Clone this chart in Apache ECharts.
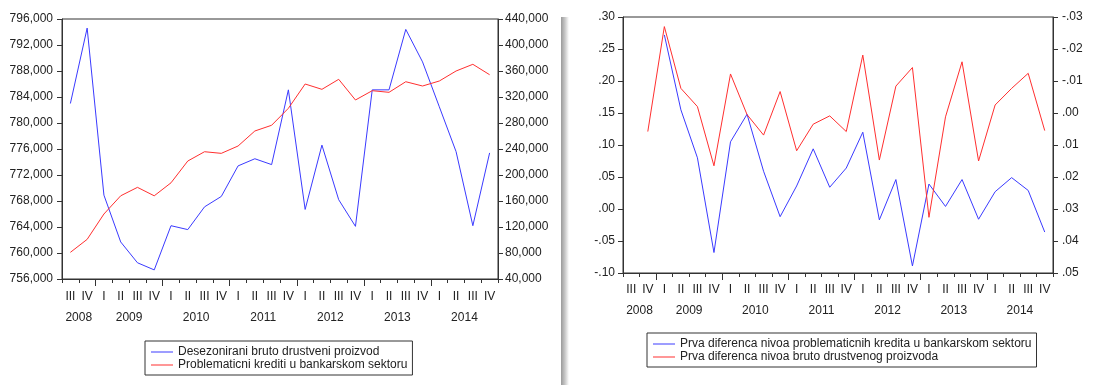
<!DOCTYPE html>
<html>
<head>
<meta charset="utf-8">
<script src="https://cdn.jsdelivr.net/npm/echarts@6/dist/echarts.min.js"></script>
<style>
  html, body { margin: 0; padding: 0; background: #fff; }
  #chart { width: 1099px; height: 385px; }
</style>
</head>
<body>
<div id="chart"></div>
<script>
// Quarterly periods, 2008 Q3 – 2014 Q4
const periods = [
  '2008 III','2008 IV',
  '2009 I','2009 II','2009 III','2009 IV',
  '2010 I','2010 II','2010 III','2010 IV',
  '2011 I','2011 II','2011 III','2011 IV',
  '2012 I','2012 II','2012 III','2012 IV',
  '2013 I','2013 II','2013 III','2013 IV',
  '2014 I','2014 II','2014 III','2014 IV'
];

// Seasonally adjusted GDP (left axis, left panel)
const gdp = [783000, 794600, 768900, 761700, 758500, 757400, 764200, 763600, 767100, 768700,
             773400, 774500, 773600, 785100, 766700, 776600, 768200, 764100, 785100, 785100,
             794400, 789400, 782500, 775600, 764200, 775400];

// Non-performing loans in the banking sector (right axis, left panel)
const loans = [81000, 101000, 140000, 168000, 181000, 168000, 188000, 221500, 235800, 233300,
               244600, 267700, 276500, 302600, 340000, 331800, 347200, 315400, 329700, 327200,
               343500, 336900, 344600, 360000, 370300, 354300];

// First difference of non-performing loans (left axis, right panel)
const diffLoans = [null, null, 0.272, 0.155, 0.080, -0.068, 0.105, 0.148, 0.059, -0.012,
                   0.036, 0.094, 0.034, 0.064, 0.120, -0.017, 0.046, -0.089, 0.039, 0.004,
                   0.046, -0.016, 0.027, 0.049, 0.029, -0.036];

// First difference of GDP (right, reversed axis, right panel)
const diffGdp = [null, 0.0058, -0.0270, -0.0077, -0.0020, 0.0165, -0.0122, 0.0005, 0.0069, -0.0067,
                 0.0118, 0.0035, 0.0009, 0.0058, -0.0181, 0.0147, -0.0084, -0.0142, 0.0326, 0.0012,
                 -0.0160, 0.0150, -0.0025, -0.0077, -0.0124, 0.0055];

const seriesNames = {
  gdp: 'Desezonirani bruto drustveni proizvod',
  loans: 'Problematicni krediti u bankarskom sektoru',
  diffLoans: 'Prva diferenca nivoa problematicnih kredita u bankarskom sektoru',
  diffGdp: 'Prva diferenca nivoa bruto drustvenog proizvoda'
};

// Quarter labels and year grouping derived from the period list
const quarterLabels = periods.map(p => p.split(' ')[1]);
const periodYears = periods.map(p => p.split(' ')[0]);
const yearBoundaries = [];
const yearLabelAt = {};
(function () {
  let start = 0;
  for (let i = 1; i <= periodYears.length; i++) {
    if (i === periodYears.length || periodYears[i] !== periodYears[i - 1]) {
      yearLabelAt[(start + i) / 2] = periodYears[start];
      if (i < periodYears.length) yearBoundaries.push(i);
      start = i;
    }
  }
})();
const yearLabelPositions = Object.keys(yearLabelAt).map(Number);

const FONT = "'Liberation Sans', Arial, sans-serif";
const INK = '#222';
const AXIS = '#333';
const BLUE = '#3a3aff';
const RED = '#ff2f2f';

function thousands(v) {
  return Math.round(v).toLocaleString('en-US');
}
function decimals(v) {
  let r = Math.round(v * 100) / 100;
  if (Math.abs(r) < 1e-9) r = 0;
  const s = Math.abs(r).toFixed(2).replace(/^0/, '');
  return (r < 0 ? '-' : '') + s;
}

function quarterAxis(gridIndex, margin) {
  return {
    type: 'category', gridIndex, data: quarterLabels, boundaryGap: true, position: 'bottom',
    axisLine: { show: true, onZero: false, lineStyle: { color: AXIS, width: 1 } },
    axisTick: { show: true, interval: 0, length: 4, lineStyle: { color: AXIS } },
    axisLabel: { interval: 0, margin, color: INK, fontSize: 12, fontFamily: FONT },
    splitLine: { show: false }
  };
}
function yearAxis(gridIndex, margin) {
  return {
    type: 'value', gridIndex, min: 0, max: periods.length, position: 'bottom',
    axisLine: { show: false, onZero: false },
    axisTick: { show: true, customValues: yearBoundaries, length: 7, lineStyle: { color: AXIS } },
    axisLabel: {
      show: true, customValues: yearLabelPositions, margin,
      color: INK, fontSize: 12, fontFamily: FONT,
      formatter: v => yearLabelAt[v] || ''
    },
    splitLine: { show: false }
  };
}
function valueAxis(gridIndex, position, min, max, interval, formatter, margin, inverse) {
  return {
    type: 'value', gridIndex, position, min, max, interval, inverse: !!inverse,
    axisLine: { show: true, onZero: false, lineStyle: { color: AXIS, width: 1 } },
    axisTick: { show: true, length: 5, lineStyle: { color: AXIS } },
    axisLabel: { formatter, margin, color: INK, fontSize: 12, fontFamily: FONT },
    splitLine: { show: false }
  };
}
function line(name, data, xAxisIndex, yAxisIndex, color) {
  return {
    type: 'line', name, data, xAxisIndex, yAxisIndex,
    symbol: 'none', connectNulls: false, silent: true,
    lineStyle: { color, width: 1 }, itemStyle: { color }
  };
}
function legendBox(left, top, names, lineHeight) {
  return {
    data: names, left, top, orient: 'vertical',
    icon: 'rect', itemWidth: 22, itemHeight: 1, itemGap: 1,
    padding: [5, 5, 4, 6],
    borderColor: '#333', borderWidth: 1, borderRadius: 0,
    selectedMode: false,
    textStyle: { color: INK, fontSize: 12, fontFamily: FONT, lineHeight }
  };
}

const chart = echarts.init(document.getElementById('chart'), null, { renderer: 'canvas' });
chart.setOption({
  animation: false,
  backgroundColor: '#fff',
  textStyle: { fontFamily: FONT },
  grid: [
    { left: 62, right: 601, top: 19, bottom: 106, show: true, borderColor: AXIS, borderWidth: 1, backgroundColor: 'transparent' },
    { left: 623, right: 46, top: 17, bottom: 112, show: true, borderColor: AXIS, borderWidth: 1, backgroundColor: 'transparent' }
  ],
  xAxis: [
    quarterAxis(0, 12), yearAxis(0, 33),
    quarterAxis(1, 11), yearAxis(1, 32)
  ],
  yAxis: [
    valueAxis(0, 'left', 756000, 796000, 4000, thousands, 9),
    valueAxis(0, 'right', 40000, 440000, 40000, thousands, 7),
    valueAxis(1, 'left', -0.10, 0.30, 0.05, decimals, 8),
    valueAxis(1, 'right', -0.03, 0.05, 0.01, decimals, 9, true)
  ],
  legend: [
    legendBox(145, 341, [seriesNames.gdp, seriesNames.loans], 12),
    legendBox(647, 333, [seriesNames.diffLoans, seriesNames.diffGdp], 11)
  ],
  series: [
    line(seriesNames.gdp, gdp, 0, 0, BLUE),
    line(seriesNames.loans, loans, 0, 1, RED),
    line(seriesNames.diffLoans, diffLoans, 2, 2, BLUE),
    line(seriesNames.diffGdp, diffGdp, 2, 3, RED)
  ],
  graphic: [
    {
      // soft drop shadow along the right edge of the left panel
      type: 'rect', silent: true, z: -1,
      shape: { x: 561, y: 17, width: 8, height: 368 },
      style: {
        fill: {
          type: 'linear', x: 0, y: 0, x2: 1, y2: 0,
          colorStops: [
            { offset: 0, color: '#9a9a9a' },
            { offset: 0.5, color: '#c8c8c8' },
            { offset: 1, color: '#ffffff' }
          ]
        }
      }
    }
  ]
});
</script>
</body>
</html>
